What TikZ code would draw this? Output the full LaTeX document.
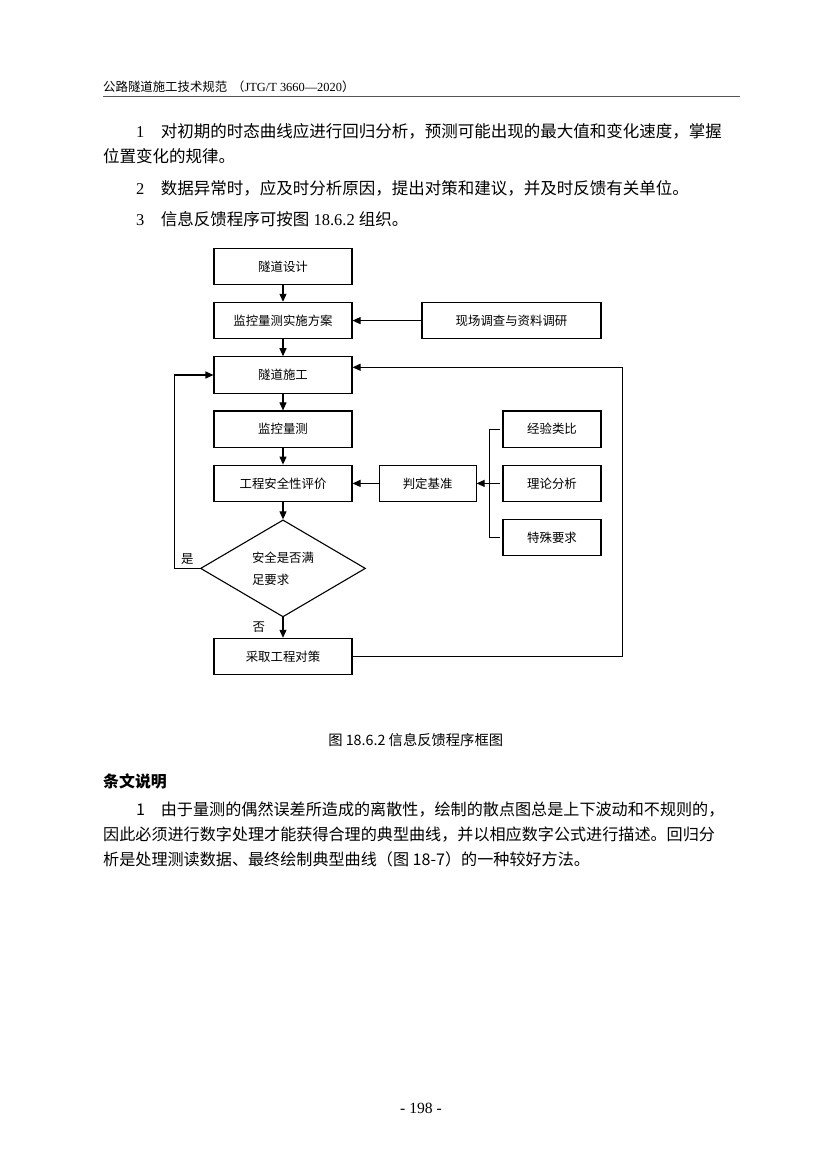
\documentclass[tikz,border=0pt]{standalone}
\usepackage{fontspec}
\setmainfont{Liberation Serif}
\newfontfamily\cjk{Noto Sans CJK SC}
\usepackage{tikz}
\usetikzlibrary{positioning,shapes.geometric,arrows,arrows.meta,calc}
\XeTeXlinebreaklocale "zh"
\XeTeXlinebreakskip=0pt plus 2pt minus 0.5pt
\definecolor{rulegray}{HTML}{555555}
\newcommand\bodyfont{\cjk\fontsize{16.5}{20}\selectfont}
\newcommand\notefont{\cjk\fontsize{16.1}{20}\selectfont}
\newcommand\chartfont{\cjk\fontsize{12.4}{15}\selectfont}

\begin{document}
\begin{tikzpicture}[x=1pt,y=-1pt,
  box/.style={draw, line width=1.1pt, minimum width=138pt, minimum height=36.5pt, inner sep=0pt, font=\chartfont},
  decide/.style={draw, diamond, line width=1.1pt, minimum width=165pt, minimum height=97pt, inner sep=0pt, align=left, font=\cjk\fontsize{12.4}{22}\selectfont},
  flow/.style={line width=1.1pt, -{Triangle[length=8pt,width=7pt]}},
  bodyline/.style={anchor=base west, inner sep=0pt, font=\bodyfont},
  fullline/.style={bodyline, text width=#1, align=justify},
  noteline/.style={anchor=base west, inner sep=0pt, font=\notefont},
  notefull/.style={noteline, text width=#1, align=justify}]
  \fill[white] (0,0) rectangle (826,1169);
  \useasboundingbox (0,0) rectangle (826,1169);

  \node[anchor=base west, inner sep=0pt, font=\chartfont] (head) at (103,91.7) {公路隧道施工技术规范\hspace{0.4em}（{\rmfamily JTG/T 3660—2020}）};
  \draw[rulegray, line width=1.3pt] (103,96.5) -- (740,96.5);

  \node[fullline=624pt] (p1a) at (103,138) {\parfillskip=0pt\noindent\hspace*{33pt}\makebox[24.7pt][l]{\rmfamily 1}对初期的时态曲线应进行回归分析，预测可能出现的最大值和变化速度，掌握};
  \node[bodyline] (p1b) at (103,163) {位置变化的规律。};
  \node[bodyline] (p2) at (103,194) {\hspace*{33pt}\makebox[24.7pt][l]{\rmfamily 2}数据异常时，应及时分析原因，提出对策和建议，并及时反馈有关单位。};
  \node[bodyline] (p3) at (103,225) {\hspace*{33pt}\makebox[24.7pt][l]{\rmfamily 3}信息反馈程序可按图{\rmfamily\ 18.6.2\ }组织。};

  \node[box] (design) at (283,266.3) {隧道设计};
  \node[box] (plan) at (283,320.6) {监控量测实施方案};
  \node[box, minimum width=179pt] (survey) at (511.5,320.6) {现场调查与资料调研};
  \node[box] (build) at (283,375) {隧道施工};
  \node[box] (monitor) at (283,429.2) {监控量测};
  \node[box] (assess) at (283,483.4) {工程安全性评价};
  \node[box, minimum width=97pt] (criterion) at (427.6,483.4) {判定基准};
  \node[box, minimum width=98pt] (analogy) at (552,429.2) {经验类比};
  \node[box, minimum width=98pt] (theory) at (552,483.4) {理论分析};
  \node[box, minimum width=98pt] (special) at (552,537.5) {特殊要求};
  \node[decide] (safe) at (283,568.4) {安全是否满\\足要求};
  \node[box] (counter) at (283,656.6) {采取工程对策};
  \coordinate (fork) at (489.3,483.4);

  \draw[flow] (design) -- (plan);
  \draw[flow] (plan) -- (build);
  \draw[flow] (build) -- (monitor);
  \draw[flow] (monitor) -- (assess);
  \draw[flow] (assess) -- (safe);
  \draw[flow] (safe) -- node[left=14pt, font=\chartfont] {否} (counter);
  \draw[flow] (survey) -- (plan);
  \draw[flow] (criterion) -- (assess);
  \draw[flow] ([xshift=-2pt]theory.west) -- (criterion);
  \draw[line width=1.1pt] ([xshift=-2pt]analogy.west) -| (fork) |- ([xshift=-2pt]special.west);
  \draw[flow] (safe.west) -- node[above, font=\chartfont] {是} ++(-25.3,0) |- (build.west);
  \draw[flow] (counter.east) -- ++(269.7,0) |- ([yshift=7.7pt]build.east);

  \node[anchor=base, inner sep=0pt, font=\cjk\fontsize{14.3}{17}\selectfont] (caption) at (415.7,745.4) {图 18.6.2 信息反馈程序框图};

  \node[anchor=base west, inner sep=0pt, font=\cjk\fontsize{15.9}{19}\selectfont\bfseries] (notehead) at (103,787) {条文说明};
  \node[notefull=624pt] (n1a) at (103,815) {\parfillskip=0pt\noindent\hspace*{33pt}\makebox[24.7pt][l]{1}由于量测的偶然误差所造成的离散性，绘制的散点图总是上下波动和不规则的，};
  \node[notefull=624pt] (n1b) at (103,840) {\parfillskip=0pt\noindent 因此必须进行数字处理才能获得合理的典型曲线，并以相应数字公式进行描述。回归分};
  \node[noteline] (n1c) at (103,865) {析是处理测读数据、最终绘制典型曲线（图 18-7）的一种较好方法。};

  \node[anchor=base, inner sep=0pt, font=\fontsize{15.6}{18}\selectfont] (page) at (421,1113) {- 198 -};
\end{tikzpicture}
\end{document}
